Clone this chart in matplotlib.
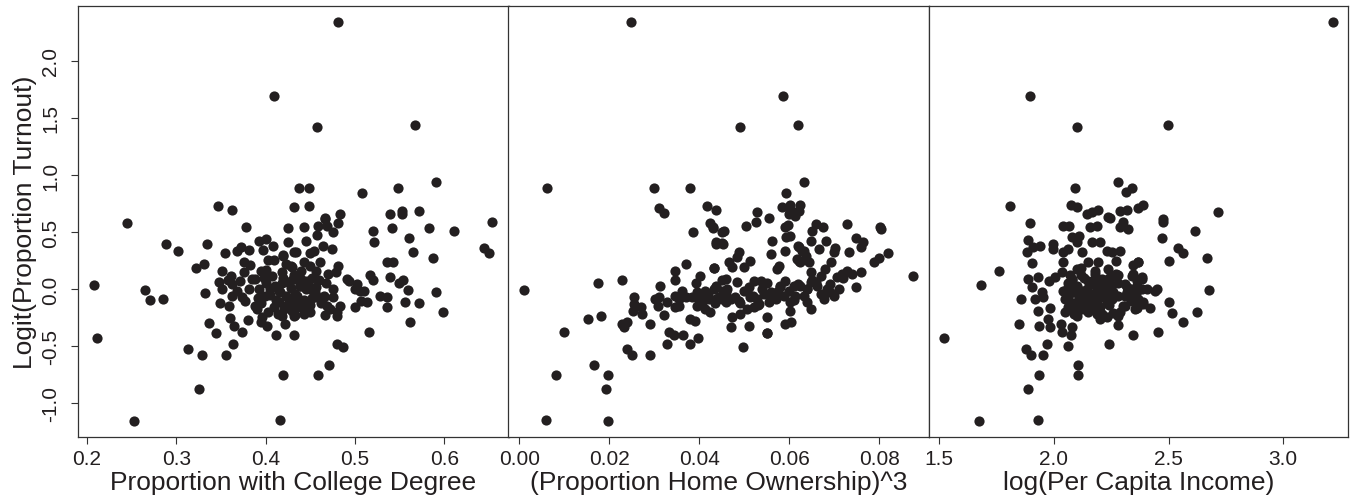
import matplotlib
matplotlib.use("Agg")
import matplotlib.pyplot as plt

plt.rcParams['font.family'] = ['Liberation Sans', 'DejaVu Sans']
plt.rcParams['axes.unicode_minus'] = False

ink = '#231f20'

# panel 1: proportion with college degree
college_x = [0.410, 0.347, 0.362, 0.4807, 0.458, 0.567, 0.591, 0.4377, 0.449, 0.508, 0.548,
             0.432, 0.449, 0.466, 0.483, 0.539, 0.553, 0.553, 0.572, 0.654, 0.645, 0.650,
             0.611, 0.583, 0.588, 0.5605, 0.565, 0.591, 0.599, 0.562, 0.572, 0.556, 0.559,
             0.554, 0.549, 0.539, 0.536, 0.543, 0.520, 0.521, 0.542, 0.516, 0.528, 0.536,
             0.536, 0.517, 0.520, 0.4997, 0.507, 0.514, 0.506, 0.510, 0.502, 0.500, 0.491,
             0.493, 0.480, 0.487, 0.471, 0.459, 0.432, 0.4836, 0.480, 0.467, 0.475, 0.476,
             0.481, 0.479, 0.470, 0.461, 0.474, 0.464, 0.454, 0.450, 0.434, 0.4425, 0.445,
             0.4576, 0.4587, 0.467, 0.469, 0.476, 0.481, 0.4425,
             0.4333, 0.4389, 0.4464, 0.4501, 0.4352, 0.4445, 0.4333, 0.4426, 0.4501, 0.4557,
             0.4576, 0.465, 0.4688, 0.4725, 0.480, 0.4333, 0.4426,
             0.208, 0.211, 0.253, 0.245, 0.265, 0.271, 0.285, 0.2885, 0.302, 0.313, 0.325,
             0.329, 0.3325, 0.334, 0.3224, 0.3306, 0.337, 0.344, 0.356, 0.363, 0.374, 0.365,
             0.3605, 0.380, 0.4195, 0.4165, 0.412, 0.3776, 0.3545, 0.3515,
             0.3474, 0.3512, 0.3493, 0.3594, 0.3624, 0.3585, 0.3616,
             0.368, 0.3736, 0.3773, 0.381, 0.3848, 0.3754, 0.3754, 0.368, 0.3728, 0.3818,
             0.3922, 0.4004, 0.3966, 0.4086, 0.4027, 0.3944, 0.3885, 0.3922, 0.3997, 0.3904,
             0.396, 0.4016, 0.3944,
             0.4072, 0.4109, 0.4165, 0.4146, 0.4202, 0.4184, 0.4221,
             0.4195, 0.4232, 0.4251, 0.4246, 0.4314, 0.4296, 0.4302, 0.4288, 0.4314,
             0.400, 0.405, 0.412, 0.418, 0.423, 0.428, 0.433, 0.438, 0.443, 0.447, 0.452,
             0.457, 0.462, 0.468, 0.425, 0.436, 0.446, 0.418, 0.428, 0.398, 0.388, 0.392,
             0.403, 0.432, 0.452, 0.457, 0.414, 0.362, 0.371, 0.383, 0.410, 0.420, 0.440,
             0.450,
             0.405, 0.415, 0.425, 0.435, 0.445, 0.455, 0.410, 0.420, 0.430, 0.440, 0.450,
             0.460, 0.395, 0.400, 0.465]
college_y = [1.69, 0.73, 0.69, 2.34, 1.424, 1.44, 0.936, 0.883, 0.883, 0.839, 0.883,
             0.717, 0.731, 0.62, 0.655, 0.658, 0.687, 0.658, 0.684, 0.585, 0.357, 0.313,
             0.509, 0.535, 0.269, 0.447, 0.322, -0.029, -0.205, -0.292, -0.126, -0.111, -0.009,
             0.082, 0.053, 0.102, 0.234, 0.234, 0.512, 0.415, 0.535, -0.374, -0.058, -0.073,
             -0.161, 0.126, 0.082, -0.161, -0.102, -0.117, -0.015, -0.015, 0.044, 0.0, 0.088,
             0.073, -0.482, -0.511, -0.667, -0.752, -0.404, -0.146, -0.205, -0.228, 0.0, -0.073,
             0.199, 0.146, 0.132, 0.234, 0.351, 0.38, 0.336, 0.313, 0.327, 0.24, 0.421,
             0.474, 0.555, 0.614, 0.555, 0.497, 0.579, 0.541,
             0.088, 0.029, 0.073, 0.0, -0.059, -0.103, -0.146, -0.175, -0.204, -0.029,
             -0.073, -0.073, -0.146, -0.175, -0.234, -0.228, -0.219,
             0.035, -0.433, -1.155, 0.576, -0.009, -0.096, -0.090, 0.397, 0.333, -0.529, -0.88,
             -0.576, -0.035, 0.397, 0.181, 0.219, -0.301, -0.386, -0.579, -0.485, -0.374, -0.327,
             -0.257, -0.269, -0.752, -1.147, -0.404, 0.547, 0.318, 0.155,
             0.064, 0.0, -0.125, -0.146, -0.064, 0.082, 0.117,
             -0.015, -0.073, -0.103, 0.0, 0.088, 0.146, 0.234, 0.336, 0.366, 0.345,
             0.424, 0.439, 0.345, 0.375, 0.257, 0.161, 0.088, 0.0, -0.059, -0.175,
             -0.248, -0.322, -0.287,
             0.117, 0.029, -0.029, -0.117, -0.175, -0.234, -0.307,
             0.292, 0.219, 0.415, 0.532, 0.327, 0.19, 0.088, -0.088, -0.234,
             0.05, -0.05, -0.10, 0.05, -0.06, 0.01, -0.04, 0.03, -0.10, 0.06, -0.08,
             0.02, -0.12, 0.05, -0.13, -0.16, -0.18, 0.15, 0.20, 0.10, -0.15, -0.08,
             -0.20, 0.12, 0.10, 0.16, -0.22, 0.04, 0.07, 0.21, 0.25, 0.30, 0.16,
             0.20,
             0.0, -0.02, 0.06, -0.09, 0.0, -0.04, -0.16, 0.10, -0.19, 0.09, -0.14,
             0.08, -0.12, 0.17, -0.06]

# panel 2: (proportion home ownership)^3
owner_x = [0.02474, 0.00615, 0.030, 0.0378, 0.0311, 0.0322, 0.0416, 0.0436,
           0.0586, 0.049, 0.0618, 0.0633, 0.0592, 0.0527, 0.0555,
           0.0584, 0.0601, 0.0623, 0.0602, 0.0621, 0.0613,
           0.0011, 0.006, 0.0196, 0.0081, 0.010, 0.0165, 0.0197, 0.0192, 0.0153, 0.0182,
           0.0174, 0.0227, 0.0238, 0.025, 0.029, 0.0228, 0.0232, 0.0239,
           0.0254, 0.0254, 0.0252, 0.0271, 0.0273, 0.0289, 0.0313, 0.0302, 0.0311, 0.0308,
           0.0328, 0.0321, 0.0328, 0.0333, 0.0343, 0.0363, 0.0378, 0.0397, 0.0345, 0.0345,
           0.0371, 0.0346, 0.0354, 0.0361, 0.0369, 0.0345, 0.0354, 0.038, 0.0391,
           0.0384, 0.0395, 0.0402, 0.0395, 0.0406, 0.0413, 0.0424, 0.0402, 0.0393, 0.0413,
           0.0422, 0.0434, 0.0443, 0.0432, 0.0437, 0.0433, 0.045, 0.0452, 0.0458,
           0.0385, 0.0424, 0.043, 0.0449, 0.0436, 0.0452,
           0.0875, 0.0801, 0.0804, 0.0728, 0.0818, 0.0798, 0.0787, 0.0759, 0.0748,
           0.0747, 0.0764, 0.0759, 0.0733, 0.0702, 0.0699, 0.0682, 0.0658, 0.0675, 0.065,
           0.0647, 0.0665, 0.0618, 0.0628, 0.0636, 0.0643, 0.0621,
           0.0693, 0.068, 0.0669, 0.0647,
           0.0728, 0.0717, 0.0706, 0.071, 0.0691, 0.0699, 0.0676, 0.0684, 0.0662, 0.0669,
           0.0647, 0.064, 0.0632, 0.0647, 0.064, 0.0624, 0.0609, 0.0613, 0.0602, 0.0602,
           0.0591, 0.0604,
           0.0591, 0.058, 0.0573, 0.0587, 0.0569, 0.0558, 0.0554, 0.055, 0.0549, 0.0561,
           0.0558, 0.0573, 0.0576, 0.0589, 0.0593, 0.0589, 0.0596, 0.0602, 0.060, 0.0613,
           0.0621, 0.0632, 0.0617, 0.0624,
           0.0526, 0.0504, 0.0454, 0.043, 0.0436, 0.045, 0.0487, 0.0484, 0.0465,
           0.0473, 0.0498, 0.0512, 0.0433, 0.0458, 0.0484, 0.0436, 0.0462, 0.0436, 0.045,
           0.0469, 0.0487, 0.0506, 0.0521, 0.0536, 0.0513, 0.0528, 0.0506, 0.0491, 0.0473,
           0.047, 0.0511, 0.0497, 0.055, 0.0521, 0.0532, 0.0543,
           0.040, 0.042, 0.044, 0.046, 0.048, 0.050, 0.052, 0.054, 0.056, 0.058, 0.060,
           0.062, 0.064, 0.066, 0.049, 0.053, 0.057, 0.061, 0.065, 0.069, 0.072, 0.074,
           0.051, 0.055]
owner_y = [2.34, 0.886, 0.886, 0.886, 0.708, 0.664, 0.731, 0.693,
           1.69, 1.424, 1.44, 0.936, 0.839, 0.673, 0.62,
           0.717, 0.74, 0.74, 0.673, 0.687, 0.643,
           -0.009, -1.146, -1.155, -0.752, -0.374, -0.667, -0.752, -0.88, -0.263, -0.234,
           0.053, 0.079, -0.526, -0.579, -0.576, -0.307, -0.336, -0.292,
           -0.073, -0.132, -0.19, -0.161, -0.219, -0.307, 0.029, -0.088, -0.073, -0.152,
           -0.117, -0.228, -0.482, -0.374, -0.404, -0.404, -0.482, -0.433, 0.155, 0.082,
           0.219, -0.064, -0.088, -0.015, -0.073, -0.161, -0.146, -0.263, -0.278,
           -0.073, -0.029, -0.073, -0.146, -0.132, -0.175, -0.204, 0.117, 0.053, -0.015,
           -0.088, -0.123, -0.073, 0.0, 0.029, 0.187, 0.082, -0.015, -0.117,
           0.497, 0.579, 0.532, 0.503, 0.395, 0.395,
           0.117, 0.541, 0.526, 0.57, 0.316, 0.269, 0.234, 0.152, 0.02,
           0.445, 0.41, 0.371, 0.327, 0.357, 0.322, 0.424, 0.57, 0.541, 0.512,
           0.418, 0.351, 0.375, 0.336, 0.292, 0.234, 0.248,
           0.234, 0.175, 0.117, 0.146,
           0.161, 0.132, 0.102, 0.0, -0.029, -0.059, -0.088, 0.0, 0.029, -0.044,
           0.059, 0.0, -0.059, -0.175, -0.117, 0.029, 0.029, -0.059, -0.117, -0.19,
           -0.307, -0.292,
           0.073, 0.029, -0.029, -0.059, -0.088, -0.029, -0.117, -0.248, -0.386, 0.424,
           0.307, 0.175, 0.204, 0.336, 0.453, 0.541, 0.561, 0.468, 0.658, 0.678,
           0.366, 0.336, 0.263, 0.234,
           0.59, 0.55, 0.511, 0.541, 0.41, 0.401, 0.327, 0.278, 0.234,
           0.19, 0.19, 0.243, 0.182, 0.088, 0.059, 0.015, 0.0, -0.088, -0.088,
           -0.088, -0.103, -0.015, 0.073, 0.073, -0.073, -0.088, -0.175, -0.219, -0.248,
           -0.336, -0.327, -0.506, -0.386, -0.161, -0.132, -0.044,
           -0.10, -0.05, -0.09, -0.03, -0.07, -0.02, -0.06, 0.00, -0.04, 0.02, -0.02,
           0.04, 0.00, 0.06, -0.12, -0.14, -0.08, -0.10, 0.08, 0.04, 0.10, 0.13,
           0.02, 0.05]

# panel 3: log(per capita income)
income_x = [1.8965, 2.101, 2.091, 2.279, 2.315, 2.34, 1.809, 2.074, 2.103,
            2.1435, 2.165, 2.194, 2.245, 2.289, 2.318, 2.368, 2.39,
            3.215, 2.4965, 2.714, 2.477,
            1.522, 1.6755, 1.933, 1.683, 1.763, 1.8865, 1.936, 2.104, 2.104,
            1.878, 1.901, 1.952, 1.969, 2.061, 1.847, 1.857, 1.937, 1.984, 1.976,
            1.93, 1.984, 2.0316, 2.035, 2.075, 2.078, 2.241, 2.279, 2.344,
            1.8965, 1.889, 1.882, 1.911, 1.94, 1.906, 1.995, 1.998,
            1.889, 1.904, 1.933, 1.918, 1.9475, 1.9545, 1.979, 2.0055,
            2.0416, 2.0664, 2.0782, 2.110, 2.100, 2.0634, 2.039, 2.0416, 2.0346, 2.1218,
            2.100, 2.0782, 2.0608, 2.049, 2.0634, 2.100, 2.1218, 2.1436, 2.1654, 2.1505,
            2.1654, 2.158, 2.1872, 2.2015, 2.2307, 2.2525, 2.2887, 2.27, 2.1941, 2.1797,
            2.2115, 2.2377, 2.2525, 2.303, 2.3248, 2.2887, 2.2377, 2.3684, 2.3397, 2.3179,
            2.3614, 2.3684, 2.354, 2.3105, 2.2813, 2.2307, 2.2015, 2.1872, 2.1505, 2.1218,
            2.100, 2.0782, 2.107, 2.1362, 2.1654, 2.1941, 2.2233, 2.2525, 2.2813, 2.3105,
            2.3397, 2.3832, 2.3902, 2.3832,
            2.4774, 2.6168, 2.473, 2.5427, 2.5645, 2.6665, 2.5035, 2.6778, 2.6229, 2.562,
            2.514, 2.5035, 2.4556, 2.368, 2.347,
            2.3466, 2.3832, 2.3614, 2.3397, 2.3614, 2.405, 2.4412, 2.4512, 2.354, 2.3902,
            2.4194, 2.3614,
            2.04, 2.06, 2.08, 2.10, 2.12, 2.14, 2.16, 2.18, 2.20, 2.22, 2.24, 2.26,
            2.28, 2.30, 2.32, 2.05, 2.09, 2.13, 2.17, 2.21, 2.25, 2.29, 2.33, 2.07,
            2.11, 2.15, 2.19, 2.23, 2.27, 2.31, 2.35, 2.12, 2.18, 2.24,
            2.06, 2.08, 2.10, 2.12, 2.14, 2.16, 2.18, 2.20, 2.22, 2.24, 2.26, 2.28,
            2.09, 2.13, 2.17, 2.21, 2.25, 2.15, 2.19, 2.23]
income_y = [1.69, 1.424, 0.883, 0.936, 0.848, 0.886, 0.731, 0.737, 0.717,
            0.658, 0.673, 0.693, 0.62, 0.687, 0.693, 0.708, 0.737,
            2.34, 1.44, 0.673, 0.614,
            -0.433, -1.155, -1.147, 0.035, 0.155, -0.88, -0.752, -0.667, -0.752,
            -0.526, -0.576, -0.579, -0.482, -0.503, -0.307, -0.088, -0.327, -0.336, -0.263,
            -0.19, -0.167, -0.307, -0.38, -0.404, -0.336, -0.482, -0.316, -0.404,
            0.576, 0.432, 0.327, 0.366, 0.375, 0.228, 0.395, 0.351,
            0.088, 0.015, 0.102, -0.088, -0.029, -0.073, 0.073, 0.102,
            0.555, 0.55, 0.454, 0.468, 0.41, 0.351, 0.322, 0.234, 0.146, 0.322,
            0.175, 0.088, 0.015, -0.088, -0.161, -0.117, -0.059, 0.0, 0.073, 0.234,
            0.41, 0.541, 0.555, 0.415, 0.336, 0.322, 0.336, 0.248, 0.234, 0.132,
            0.088, 0.175, 0.117, 0.585, 0.526, 0.541, 0.629, 0.234, 0.117, 0.015,
            0.029, -0.088, -0.175, -0.146, -0.234, -0.248, -0.263, -0.204, -0.204, -0.175,
            -0.234, -0.029, 0.0, -0.088, -0.117, -0.088, -0.029, -0.088, -0.059, -0.059,
            -0.103, 0.0, -0.117, 0.088,
            0.585, 0.506, 0.447, 0.357, 0.313, 0.269, 0.243, -0.009, -0.199, -0.292,
            -0.213, -0.117, -0.374, 0.24, 0.21,
            0.132, 0.102, 0.073, 0.0, -0.015, 0.0, -0.015, 0.0, -0.117, -0.132,
            -0.169, -0.169,
            -0.02, 0.05, -0.12, 0.03, -0.15, -0.05, 0.04, -0.10, -0.02, 0.06, -0.14, -0.03,
            0.05, -0.15, -0.03, -0.20, -0.22, 0.10, -0.17, -0.22, 0.02, -0.20, -0.08, 0.12,
            -0.07, -0.13, 0.01, -0.11, 0.13, 0.04, -0.05, 0.18, 0.16, 0.08,
            -0.08, 0.08, -0.18, 0.12, -0.09, -0.15, 0.05, -0.16, -0.07, 0.10, -0.21, 0.12,
            -0.03, -0.02, -0.04, -0.05, -0.09, 0.07, -0.22, 0.03]

fig = plt.figure(figsize=(13.51, 5.02), dpi=100)
W, H = 1351, 502
bottom, height = 64 / H, 431 / H
ax1 = fig.add_axes([78 / W, bottom, 430.5 / W, height])
ax2 = fig.add_axes([508.5 / W, bottom, 420 / W, height])
ax3 = fig.add_axes([928.5 / W, bottom, 419.5 / W, height])

panels = [
    (ax1, college_x, college_y, (0.190, 0.672), [0.2, 0.3, 0.4, 0.5, 0.6],
     ['0.2', '0.3', '0.4', '0.5', '0.6'], 'Proportion with College Degree'),
    (ax2, owner_x, owner_y, (-0.00244, 0.0909), [0.0, 0.02, 0.04, 0.06, 0.08],
     ['0.00', '0.02', '0.04', '0.06', '0.08'], '(Proportion Home Ownership)^3'),
    (ax3, income_x, income_y, (1.454, 3.282), [1.5, 2.0, 2.5, 3.0],
     ['1.5', '2.0', '2.5', '3.0'], 'log(Per Capita Income)'),
]

for ax, xs, ys, xlim, ticks, labels, xlabel in panels:
    ax.scatter(xs, ys, s=54, color=ink, linewidths=0, zorder=3)
    ax.set_xlim(*xlim)
    ax.set_ylim(-1.298, 2.482)
    ax.set_xticks(ticks)
    ax.set_xticklabels(labels)
    ax.set_xlabel(xlabel, fontsize=19, color=ink, labelpad=1)
    ax.tick_params(axis='x', direction='out', length=5, width=0.8, colors='#333333',
                   labelsize=15, labelcolor=ink, pad=4)
    for sp in ax.spines.values():
        sp.set_linewidth(0.9)
        sp.set_color('#333333')
    ax.set_yticks([])

ax1.set_yticks([-1.0, -0.5, 0.0, 0.5, 1.0, 1.5, 2.0])
ax1.set_yticklabels(['-1.0', '-0.5', '0.0', '0.5', '1.0', '1.5', '2.0'],
                    rotation=90, va='center')
ax1.tick_params(axis='y', direction='out', length=5, width=0.8, colors='#333333',
                labelsize=15, labelcolor=ink, pad=8)
ax1.set_ylabel('Logit(Proportion Turnout)', fontsize=19, color=ink, labelpad=3)

fig.savefig('out.png', dpi=100)
